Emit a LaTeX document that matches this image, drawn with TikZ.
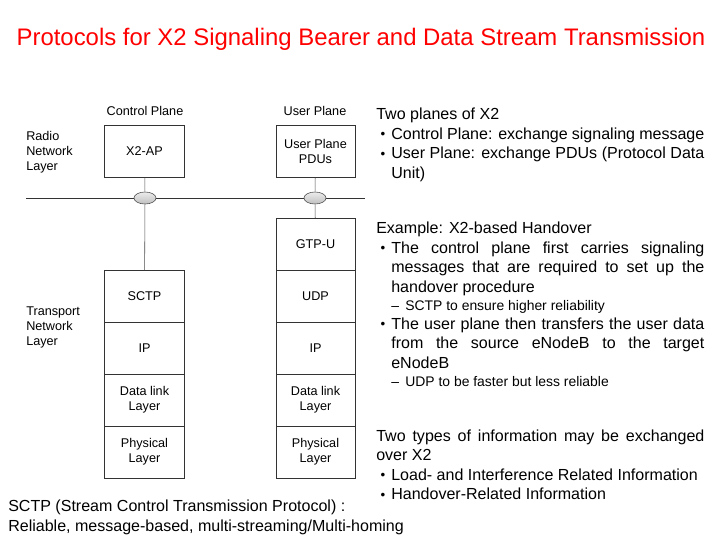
\documentclass[tikz,border=0pt]{standalone}
\usepackage{fontspec}
\setmainfont{Liberation Sans}
\usetikzlibrary{positioning, shapes.geometric}

\newcommand{\bitem}{\par\hangindent=0.375cm\hangafter=1\noindent\makebox[0.375cm][l]{\hspace{0.11cm}\raisebox{0.4pt}{\fontsize{9.5}{8}\selectfont\textbullet}}}
\newcommand{\ditem}[1]{\par{\fontsize{9.9}{12.8}\selectfont\hangindent=0.725cm\hangafter=1\noindent\hspace{0.375cm}\makebox[0.35cm][l]{--}#1\par}}

\begin{document}
\begin{tikzpicture}[x=0.025cm, y=-0.025cm,
    layer/.style={draw=black!80, line width=0.7pt, minimum width=1.975cm, minimum height=1.3cm,
      inner sep=1pt, outer sep=0pt, align=center, font=\fontsize{9}{10.5}\selectfont},
    plane/.style={font=\fontsize{9}{10.5}\selectfont},
    side/.style={align=left, anchor=north west, inner sep=0pt, font=\fontsize{9}{10.6}\selectfont},
    iface/.style={ellipse, draw=black!70, top color=gray!15, bottom color=gray!50, minimum width=0.55cm, minimum height=0.3cm, inner sep=0pt},
    txt/.style={anchor=north west, inner sep=0pt, text width=8.2cm, align=justify, font=\fontsize{11.4}{13.8}\selectfont}]

  \useasboundingbox (0,0) rectangle (720,540);

  % title
  \node[red, font=\fontsize{17}{20}\selectfont] (title) at (361,39)
    {Protocols for X2 Signaling Bearer and Data Stream Transmission};

  % plane labels
  \node[plane] (cplane) at (145,111) {Control Plane};
  \node[plane] (uplane) at (315,111) {User Plane};

  % layer labels
  \node[side] (rnl) at (26,131) {Radio\\Network\\Layer};
  \node[side] (tnl) at (26,307) {Transport\\Network\\Layer};

  % radio network layer
  \node[layer] (x2ap) at (144.5,151.5) {X2-AP};
  \node[layer] (updu) at (315.5,151.5) {User Plane\\PDUs};

  % interface line
  \coordinate (lineL) at (26,198);
  \coordinate (lineR) at (365,198);
  \draw[black!80] (lineL) -- (lineR);
  \node[iface] (cif) at (145,198) {};
  \node[iface] (uif) at (315,198) {};

  % control plane stack
  \node[layer] (sctp) at (144.5,296) {SCTP};
  \node[layer, below=0pt of sctp] (ipc) {IP};
  \node[layer, below=0pt of ipc] (dlc) {Data link\\Layer};
  \node[layer, below=0pt of dlc] (phc) {Physical\\Layer};

  % user plane stack
  \node[layer] (gtpu) at (315.5,244) {GTP-U};
  \node[layer, below=0pt of gtpu] (udp) {UDP};
  \node[layer, below=0pt of udp] (ipu) {IP};
  \node[layer, below=0pt of ipu] (dlu) {Data link\\Layer};
  \node[layer, below=0pt of dlu] (phu) {Physical\\Layer};

  % connectors
  \draw[black!70] (x2ap) -- (cif);
  \draw[black!70] (cif) -- (sctp);
  \draw[black!70] (updu) -- (uif);
  \draw[black!70] (uif) -- (gtpu);

  % text on the right
  \node[txt] (planes) at (376,108) {\noindent Two planes of X2
    \bitem Control Plane: exchange signaling message
    \bitem User Plane: exchange PDUs (Protocol Data\linebreak Unit)\par};

  \node[txt] (handover) at (376,222) {\noindent Example: X2-based Handover
    \bitem The control plane first carries signaling\linebreak messages that are required to set up the\linebreak handover procedure
    \ditem{SCTP to ensure higher reliability}
    \bitem The user plane then transfers the user data\linebreak from the source eNodeB to the target\linebreak eNodeB
    \ditem{UDP to be faster but less reliable}};

  \node[txt] (infotypes) at (376,429.5) {\noindent Two types of information may be exchanged\linebreak over X2
    \bitem Load- and Interference Related Information
    \bitem Handover-Related Information\par};

  % note at the bottom
  \node[anchor=north west, inner sep=0pt, align=left, font=\fontsize{11.4}{13.8}\selectfont] (sctpnote) at (8,500)
    {SCTP (Stream Control Transmission Protocol) :\\Reliable, message-based, multi-streaming/Multi-homing};
\end{tikzpicture}
\end{document}
